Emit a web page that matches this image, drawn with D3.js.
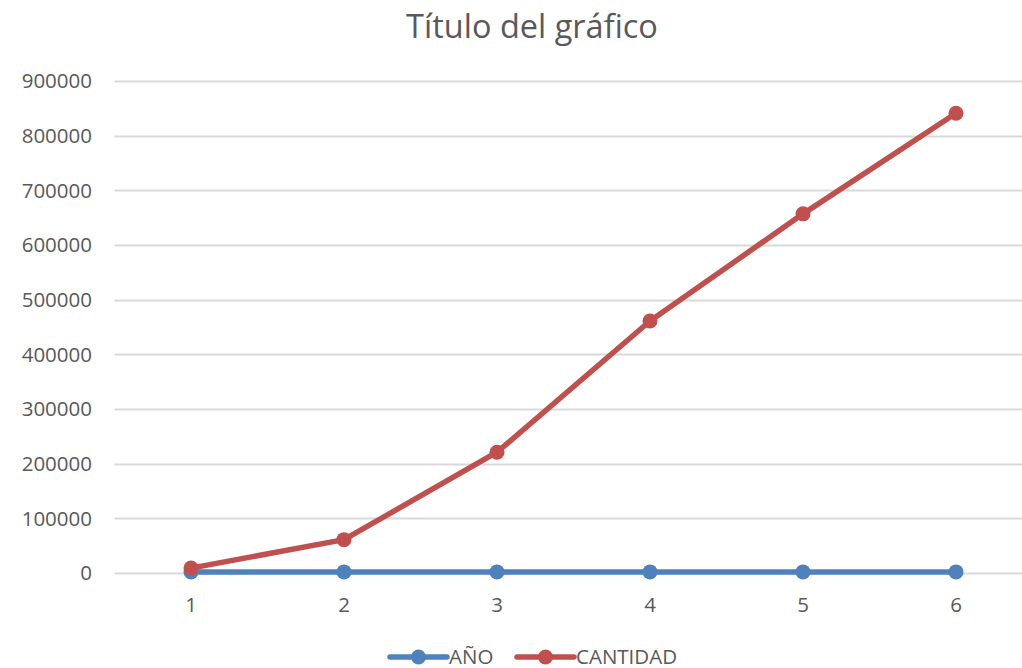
<!DOCTYPE html>
<html>
<head>
<meta charset="utf-8">
<script src="https://cdn.jsdelivr.net/npm/d3@7"></script>
<style>
  body { margin: 0; background: #fff; }
  text { font-family: "Open Sans", sans-serif; fill: #595959; }
</style>
</head>
<body>
<div id="container"></div>
<script>
var w = 1022,
  h = 668;

var categories = [1, 2, 3, 4, 5, 6];
var anio = [2012, 2013, 2014, 2015, 2016, 2017];
var cantidad = [9000, 61000, 221000, 461000, 657000, 841000];
var yTicks = [0, 100000, 200000, 300000, 400000, 500000, 600000, 700000, 800000, 900000];

var series = [
  { name: 'AÑO', values: anio, color: '#4f81bd' },
  { name: 'CANTIDAD', values: cantidad, color: '#c0504d' }
];

var svg = d3.select('#container').append('svg')
  .attr('width', w)
  .attr('height', h);

var xScale = d3.scalePoint()
  .domain(categories)
  .range([114.5, 1032.5])
  .padding(0.5);

var yScale = d3.scaleLinear()
  .domain([0, 900000])
  .range([573, 81]);

// gridlines
svg.append('g')
  .selectAll('line')
  .data(yTicks)
  .enter()
  .append('line')
  .attr('x1', 114.5)
  .attr('x2', 1032.5)
  .attr('y1', d => Math.round(yScale(d)) + 0.5)
  .attr('y2', d => Math.round(yScale(d)) + 0.5)
  .attr('stroke', '#d9d9d9')
  .attr('stroke-width', 2);

// y labels
svg.append('g')
  .selectAll('text')
  .data(yTicks)
  .enter()
  .append('text')
  .attr('x', 92)
  .attr('y', d => yScale(d))
  .attr('dy', '0.35em')
  .attr('text-anchor', 'end')
  .style('font-size', '20.5px')
  .text(d => d);

// x labels
svg.append('g')
  .selectAll('text')
  .data(categories)
  .enter()
  .append('text')
  .attr('x', d => xScale(d))
  .attr('y', 612)
  .attr('text-anchor', 'middle')
  .style('font-size', '20.5px')
  .text(d => d);

// title
svg.append('text')
  .attr('x', 532)
  .attr('y', 38)
  .attr('text-anchor', 'middle')
  .style('font-size', '32.5px')
  .text('Título del gráfico');

var line = d3.line()
  .x((d, i) => xScale(categories[i]))
  .y(d => yScale(d));

series.forEach(function (s) {
  var g = svg.append('g');
  g.append('path')
    .datum(s.values)
    .attr('fill', 'none')
    .attr('stroke', s.color)
    .attr('stroke-width', 5.5)
    .attr('stroke-linejoin', 'round')
    .attr('d', line);
  g.selectAll('circle')
    .data(s.values)
    .enter()
    .append('circle')
    .attr('cx', (d, i) => xScale(categories[i]))
    .attr('cy', d => yScale(d))
    .attr('r', 7.5)
    .attr('fill', s.color);
});

// legend
var legendX = [390, 517];
var legend = svg.append('g');
series.forEach(function (s, i) {
  var lg = legend.append('g')
    .attr('transform', 'translate(' + legendX[i] + ',657)');
  lg.append('line')
    .attr('x1', 0)
    .attr('x2', 57)
    .attr('stroke', s.color)
    .attr('stroke-width', 5.5)
    .attr('stroke-linecap', 'round');
  lg.append('circle')
    .attr('cx', 28.5)
    .attr('r', 7.5)
    .attr('fill', s.color);
  lg.append('text')
    .attr('x', 59)
    .attr('dy', '0.35em')
    .style('font-size', '20.5px')
    .text(s.name);
});
</script>
</body>
</html>
